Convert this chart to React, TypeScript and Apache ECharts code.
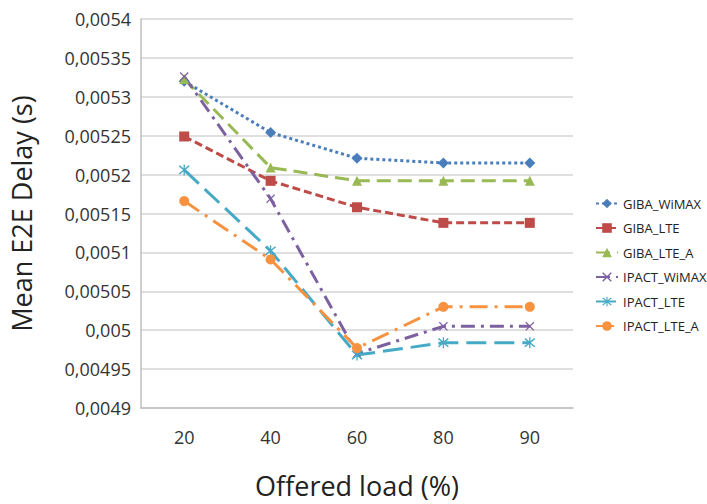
import React, { useEffect, useRef } from "react";
import * as echarts from "echarts";

const categories = ["20", "40", "60", "80", "90"];
const seriesNames = ["GIBA_WiMAX", "GIBA_LTE", "GIBA_LTE_A", "IPACT_WiMAX", "IPACT_LTE", "IPACT_LTE_A"];
const gibaWimax = [0.00532, 0.005254, 0.005221, 0.005215, 0.005215];
const gibaLte = [0.005249, 0.005192, 0.005158, 0.005138, 0.005138];
const gibaLteA = [0.005323, 0.005209, 0.005192, 0.005192, 0.005192];
const ipactWimax = [0.005326, 0.005169, 0.00497, 0.005005, 0.005005];
const ipactLte = [0.005206, 0.005102, 0.004968, 0.004984, 0.004984];
const ipactLteA = [0.005166, 0.005091, 0.004977, 0.00503, 0.00503];
const yMin = 0.0049;
const yMax = 0.0054;
const yStep = 0.00005;

const FONT = "Open Sans";
const X_PATH = "path://M1,0 L5,4 L9,0 L10,1 L6,5 L10,9 L9,10 L5,6 L1,10 L0,9 L4,5 L0,1 Z";
const STAR_PATH =
  "path://M1,0 L5,4 L9,0 L10,1 L6,5 L10,9 L9,10 L5,6 L1,10 L0,9 L4,5 L0,1 Z M4.4,-1 L5.6,-1 L5.6,11 L4.4,11 Z";

export default function App() {
  const ref = useRef<HTMLDivElement>(null);
  useEffect(() => {
    if (!ref.current) return;
    const chart = echarts.init(ref.current, undefined, { renderer: "svg" });
    const styles = [
      { data: gibaWimax, color: "#4a7ebb", dash: [3, 3], symbol: "diamond", size: 11, width: 3 },
      { data: gibaLte, color: "#be4b48", dash: [8, 4], symbol: "rect", size: 10, width: 3 },
      { data: gibaLteA, color: "#98b954", dash: [14, 7], symbol: "triangle", size: 10, width: 3 },
      { data: ipactWimax, color: "#7d60a0", dash: [14, 6, 3, 6], symbol: X_PATH, size: 9, width: 3 },
      { data: ipactLte, color: "#46aac5", dash: [20, 8], symbol: STAR_PATH, size: 11, width: 3 },
      { data: ipactLteA, color: "#f69240", dash: [18, 7, 3, 7], symbol: "circle", size: 10, width: 3 },
    ];
    chart.setOption({
      animation: false,
      backgroundColor: "#ffffff",
      textStyle: { fontFamily: FONT },
      grid: { left: 137, right: 134, top: 19, bottom: 82, containLabel: false },
      legend: {
        orient: "vertical",
        left: 590,
        top: 192,
        itemWidth: 22,
        itemHeight: 12,
        itemGap: 11.5,
        textStyle: { fontFamily: FONT, fontSize: 13, color: "#222" },
        data: seriesNames,
      },
      xAxis: {
        type: "category",
        data: categories,
        boundaryGap: true,
        axisTick: { show: false },
        axisLine: { show: true, lineStyle: { color: "#bfbfbf", width: 1.5 } },
        axisLabel: { fontFamily: FONT, fontSize: 18, color: "#333", margin: 20 },
        name: "Offered load (%)",
        nameLocation: "middle",
        nameGap: 64,
        nameTextStyle: { fontFamily: FONT, fontSize: 27, color: "#222" },
      },
      yAxis: {
        type: "value",
        min: yMin,
        max: yMax,
        interval: yStep,
        axisTick: { show: false },
        axisLine: { show: true, lineStyle: { color: "#bfbfbf", width: 1.5 } },
        splitLine: { show: true, lineStyle: { color: "#d4d4d4", width: 1.5 } },
        axisLabel: {
          fontFamily: FONT,
          fontSize: 18,
          color: "#333",
          margin: 10,
          formatter: (v: number) => String(parseFloat(v.toFixed(6))).replace(".", ","),
        },
        name: "Mean E2E Delay (s)",
        nameLocation: "middle",
        nameGap: 106,
        nameTextStyle: { fontFamily: FONT, fontSize: 27, color: "#222" },
      },
      series: styles.map((s, i) => ({
        name: seriesNames[i],
        type: "line",
        data: s.data,
        symbol: s.symbol,
        symbolSize: s.size,
        showSymbol: true,
        itemStyle: { color: s.color },
        lineStyle: { color: s.color, width: s.width, type: s.dash },
      })),
    });
    return () => chart.dispose();
  }, []);
  return <div ref={ref} style={{ width: 707, height: 504, position: "absolute", left: 0, top: 0 }} />;
}
